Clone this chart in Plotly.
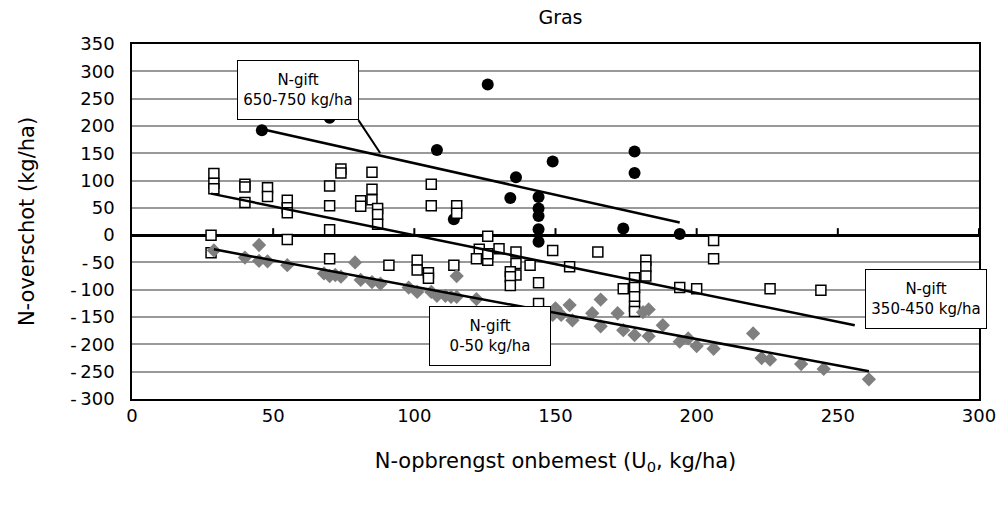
import plotly.graph_objects as go

# ---- data ----
high_x = [46, 70, 108, 114, 126, 134, 136, 144, 144, 144, 144, 144, 149, 174, 178, 178, 194]
high_y = [192, 215, 156, 29, 276, 68, 106, 70, 49, 35, 11, -12, 135, 12, 153, 114, 2]

mid_x = [29, 29, 29, 28, 28, 40, 40, 40, 48, 48, 55, 55, 55, 55, 70, 70, 70, 70, 74, 74,
         85, 85, 85, 81, 81, 87, 87, 87, 91, 106, 106, 115, 115, 101, 101, 105, 105, 114,
         126, 123, 122, 126, 126, 130, 136, 136, 136, 134, 134, 134, 141, 144, 144,
         149, 155, 165, 182, 182, 182, 178, 178, 178, 178, 178, 174, 194, 200, 206, 206,
         226, 244]
mid_y = [113, 95, 85, 0, -32, 93, 88, 60, 87, 71, 64, 50, 41, -8, 90, 54, 10, -43, 121, 114,
         115, 84, 65, 63, 53, 49, 38, 20, -55, 93, 54, 54, 40, -46, -64, -69, -79, -55,
         -2, -26, -43, -46, -34, -25, -31, -52, -73, -67, -76, -92, -55, -87, -125,
         -28, -58, -31, -46, -58, -75, -78, -96, -113, -130, -140, -98, -96, -98, -10, -43,
         -98, -101]

low_x = [29, 45, 40, 45, 48, 55, 68, 70, 72, 74, 79, 81, 85, 88,
         98, 101, 106, 108, 111, 115, 115, 113, 122,
         150, 155, 156, 152, 149, 166, 163, 166, 172, 174, 178, 183, 181, 183, 188,
         194, 197, 200, 206, 220, 223, 226, 237, 245, 261]
low_y = [-28, -18, -41, -47, -48, -55, -70, -75, -73, -76, -50, -82, -86, -89,
         -96, -104, -104, -111, -111, -75, -113, -113, -117,
         -134, -128, -156, -146, -146, -118, -143, -167, -143, -174, -183, -185, -141, -136, -165,
         -195, -189, -203, -208, -180, -225, -228, -236, -245, -264]

# trend lines
trend_high_x = [47, 194]
trend_high_y = [193, 23]
trend_mid_x = [28, 256]
trend_mid_y = [76, -165]
trend_low_x = [29, 261]
trend_low_y = [-26, -249]

x_ticks = [0, 50, 100, 150, 200, 250, 300]
y_ticks = list(range(-300, 351, 50))
y_ticktext = [str(v) if v >= 0 else "-\u2009" + str(-v) for v in y_ticks]

FONT = "DejaVu Sans, sans-serif"

fig = go.Figure()

fig.add_trace(go.Scatter(x=high_x, y=high_y, mode="markers",
                         marker=dict(symbol="circle", size=12, color="black"),
                         showlegend=False))
fig.add_trace(go.Scatter(x=mid_x, y=mid_y, mode="markers",
                         marker=dict(symbol="square", size=10, color="white",
                                     line=dict(color="black", width=1.5)),
                         showlegend=False))
fig.add_trace(go.Scatter(x=low_x, y=low_y, mode="markers",
                         marker=dict(symbol="diamond", size=11, color="#7f7f7f",
                                     line=dict(width=0)),
                         showlegend=False))
for tx, ty in [(trend_high_x, trend_high_y), (trend_mid_x, trend_mid_y), (trend_low_x, trend_low_y)]:
    fig.add_trace(go.Scatter(x=tx, y=ty, mode="lines",
                             line=dict(color="black", width=2.5), showlegend=False))

# tick marks on the zero axis line
for t in x_ticks[1:]:
    fig.add_shape(type="line", xref="x", yref="y", x0=t, x1=t,
                  ysizemode="pixel", yanchor=0, y0=0, y1=7,
                  line=dict(color="black", width=2))

# callout line from first box
fig.add_shape(type="line", xref="x", yref="y", x0=80.2, y0=210.6, x1=87.9, y1=150.4,
              line=dict(color="black", width=2))

box_font = dict(family=FONT, size=15, color="black")
for label, bx, by in [("N-gift<br>650-750 kg/ha", 58.8, 265.6),
                      ("N-gift<br>0-50 kg/ha", 126.9, -185),
                      ("N-gift<br>350-450 kg/ha", 281.3, -117.2)]:
    fig.add_annotation(x=bx, y=by, xref="x", yref="y", text=label, showarrow=False,
                       font=box_font, bgcolor="white", bordercolor="black", borderwidth=1,
                       width=118, height=56, align="center", xanchor="center", yanchor="middle")

fig.update_layout(
    width=1008, height=508,
    margin=dict(l=132, r=19, t=44, b=109),
    paper_bgcolor="white", plot_bgcolor="white",
    font=dict(family=FONT, size=19, color="black"),
    title=dict(text="Gras", x=0.556, xanchor="center", y=1 - 17 / 508, yanchor="middle",
               yref="container", font=dict(family=FONT, size=19, color="black")),
    xaxis=dict(range=[0, 300], tickvals=x_ticks, ticktext=[str(v) for v in x_ticks],
               showgrid=False, zeroline=False, showline=True, mirror=True,
               linecolor="black", linewidth=1.5, ticks="",
               title=dict(text="N-opbrengst onbemest (U<sub>0</sub>, kg/ha)", standoff=28,
                          font=dict(family=FONT, size=21)),
               tickfont=dict(family=FONT, size=18)),
    yaxis=dict(range=[-300, 350], tickvals=y_ticks, ticktext=y_ticktext,
               showgrid=True, gridcolor="#999999", gridwidth=1.5,
               zeroline=True, zerolinecolor="black", zerolinewidth=2.5,
               showline=True, mirror=True, linecolor="black", linewidth=1.5, ticks="",
               ticklabelstandoff=12,
               title=dict(text="N-overschot (kg/ha)", standoff=30,
                          font=dict(family=FONT, size=21)),
               tickfont=dict(family=FONT, size=18)),
)

fig.write_html("out.html")
